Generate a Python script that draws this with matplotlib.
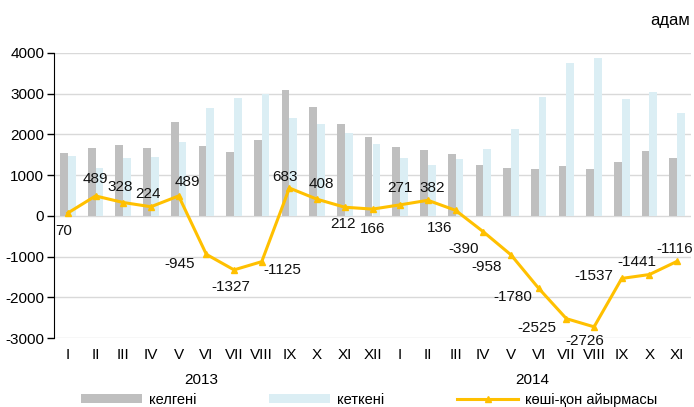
import numpy as np
import matplotlib
matplotlib.use("Agg")
import matplotlib.pyplot as plt
from matplotlib.transforms import blended_transform_factory

plt.rcParams['font.family'] = ['Liberation Sans', 'DejaVu Sans']
plt.rcParams['axes.unicode_minus'] = False

months = ["I", "II", "III", "IV", "V", "VI", "VII", "VIII", "IX", "X", "XI", "XII",
          "I", "II", "III", "IV", "V", "VI", "VII", "VIII", "IX", "X", "XI"]
arrived = [1545, 1660, 1750, 1675, 2305, 1705, 1560, 1870, 3090, 2670, 2255, 1940,
           1690, 1620, 1530, 1260, 1175, 1150, 1220, 1150, 1325, 1600, 1415]
departed = [1475, 1171, 1422, 1451, 1816, 2650, 2887, 2995, 2407, 2262, 2043, 1774,
            1419, 1238, 1394, 1650, 2133, 2930, 3745, 3876, 2862, 3041, 2531]
balance = [70, 489, 328, 224, 489, -945, -1327, -1125, 683, 408, 212, 166,
           271, 382, 136, -390, -958, -1780, -2525, -2726, -1537, -1441, -1116]
years = ["2013", "2014"]

# label offsets (points) for each balance value
offsets = [(-3, -13), (0, 12), (-2, 11), (-2, 9.5), (6, 10), (-19, -7), (-2, -12.5), (15, -6),
           (-3.5, 8), (3, 11), (-1.5, -12), (0, -14),
           (0, 12), (3, 9), (-11.5, -12.5), (-14, -12.5), (-17.5, -9), (-18.5, -6),
           (-21, -7), (-6.7, -10.5), (-20, 2), (-9, 9), (-1.5, 8.5)]

fig = plt.figure(figsize=(6.94, 4.07), dpi=100)
ax = fig.add_axes([54 / 694, 69 / 407, 637 / 694, 285 / 407])

x = np.arange(len(months))
w = 0.28
b1 = ax.bar(x - w / 2, arrived, width=w, color="#BFBFBF", label="келгені", zorder=2)
b2 = ax.bar(x + w / 2, departed, width=w, color="#DBEEF4", label="кеткені", zorder=2)
ln, = ax.plot(x, balance, color="#FFC000", lw=2.2, marker="^", ms=5,
              label="көші-қон айырмасы", zorder=3)

for xi, v, off in zip(x, balance, offsets):
    ax.annotate(str(v), (xi, v), xytext=off, textcoords="offset points",
                ha="center", va="center", fontsize=11, color="#111111", zorder=4)

ax.set_xlim(-0.5, len(months) - 0.5)
ax.set_ylim(-3000, 4000)
ax.set_yticks(range(-3000, 4001, 1000))
ax.set_xticks(x)
ax.set_xticklabels(months)
ax.tick_params(axis="x", length=0, pad=7, labelsize=11)
ax.tick_params(axis="y", length=5, width=1, labelsize=11, pad=2)
ax.grid(axis="y", color="#D9D9D9", lw=1, zorder=0)
for s in ["top", "right", "bottom"]:
    ax.spines[s].set_visible(False)
ax.spines["left"].set_color("black")

tr = blended_transform_factory(ax.transData, fig.transFigure)
ax.text(4.8, 1 - 380 / 407, years[0], transform=tr, ha="center", va="center", fontsize=11)
ax.text(16.75, 1 - 380 / 407, years[1], transform=tr, ha="center", va="center", fontsize=11)

fig.text(690 / 694, 1 - 20 / 407, "адам", ha="right", va="center", fontsize=12)

fig.legend([b1, b2, ln], ["келгені", "кеткені", "көші-қон айырмасы"],
           loc="center left", bbox_to_anchor=(81 / 694, 1 - 400 / 407), ncol=3,
           frameon=False, fontsize=10.5, handlelength=4.2, handleheight=0.55,
           columnspacing=5.0, handletextpad=0.45, borderpad=0, borderaxespad=0)

fig.savefig("out.png", dpi=100)
